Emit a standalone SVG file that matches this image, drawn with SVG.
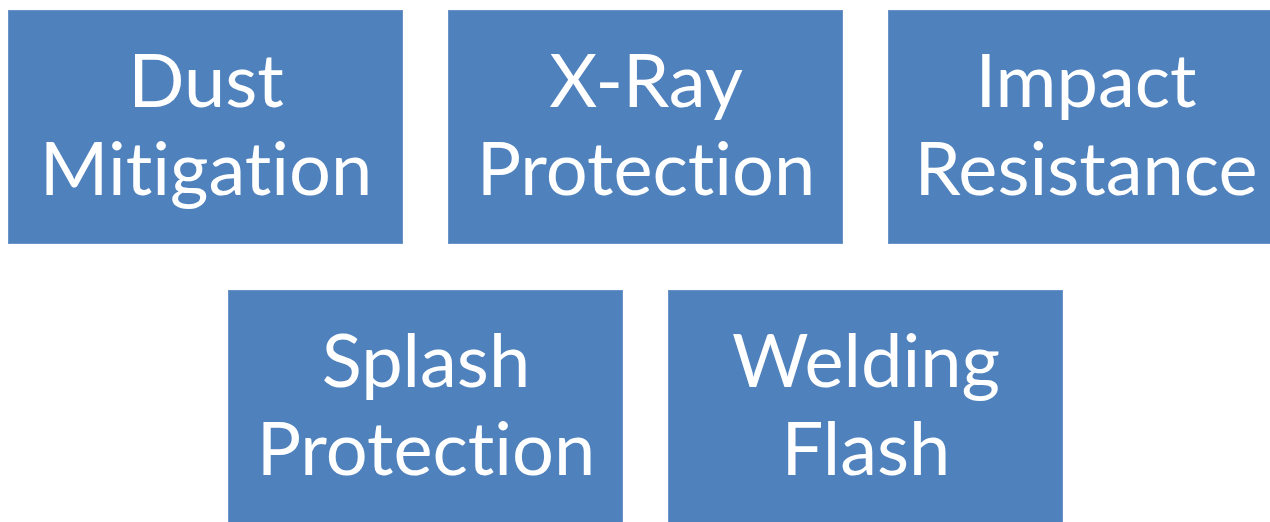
<svg xmlns="http://www.w3.org/2000/svg" width="1270" height="522" viewBox="0 0 1270 522">
<style>
.box{fill:#4F81BD;stroke:#6A94C8;stroke-width:1}
.t{fill:#FFFFFF;font-family:Lato,"Open Sans","Liberation Sans",sans-serif;font-size:74px;text-anchor:middle;font-variant-ligatures:none;font-feature-settings:"liga" 0}
</style>
<rect width="1270" height="522" fill="#FFFFFF"/>
<g id="dust"><rect class="box" x="8.5" y="10.5" width="394" height="233"/><text class="t" x="206" y="107">Dust</text><text class="t" x="206" y="195">Mitigation</text></g>
<g id="xray"><rect class="box" x="448.5" y="10.5" width="394" height="233"/><text class="t" x="646" y="107">X-Ray</text><text class="t" x="646" y="195">Protection</text></g>
<g id="impact"><rect class="box" x="888.5" y="10.5" width="394" height="233"/><text class="t" x="1086" y="107">Impact</text><text class="t" x="1086" y="195">Resistance</text></g>
<g id="splash"><rect class="box" x="228.5" y="290.5" width="394" height="233"/><text class="t" x="426" y="387">Splash</text><text class="t" x="426" y="475">Protection</text></g>
<g id="welding"><rect class="box" x="668.5" y="290.5" width="394" height="233"/><text class="t" x="866" y="387">Welding</text><text class="t" x="866" y="475">Flash</text></g>
<g id="connectors"/>
</svg>
